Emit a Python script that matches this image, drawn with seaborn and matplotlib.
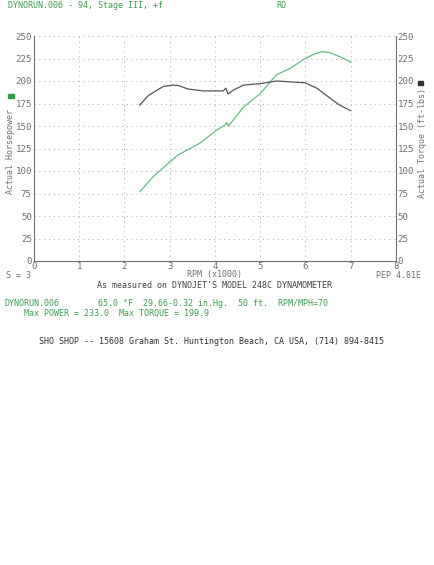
import seaborn as sns
import matplotlib.pyplot as plt
import pandas as pd

# Datos (RPM x1000)
rpm_power = [2.34, 2.64, 3.0, 3.19, 3.41, 3.67, 4.04, 4.22, 4.26, 4.29, 4.33, 4.63,
             5.0, 5.22, 5.36, 5.66, 5.99, 6.2, 6.36, 6.54, 6.76, 7.0]
power = [77, 94, 110, 118, 124, 131, 145.5, 151, 154, 150, 152, 171,
         186, 199, 207, 214, 225, 230, 232.6, 231.5, 227, 221]

rpm_torque = [2.33, 2.53, 2.86, 3.08, 3.19, 3.41, 3.74, 4.18, 4.24, 4.29, 4.41, 4.63,
              5.0, 5.36, 5.99, 6.25, 6.54, 6.76, 7.0]
torque = [173, 184, 194, 195.5, 195, 191, 189, 189, 192, 185.5, 190, 195.5,
          197, 200, 198, 192, 181, 173, 167]

x_ticks = list(range(0, 9))
y_ticks = list(range(0, 251, 25))

GREEN_TXT = "#3f9f52"
GREEN_LINE = "#66bb80"
GRAY = "#707070"
MONO = "DejaVu Sans Mono"

sns.set_style("white")
plt.rcParams['font.family'] = [MONO, 'DejaVu Sans']

fig = plt.figure(figsize=(4.35, 5.65), dpi=100)
ax = fig.add_axes([34 / 435, 1 - 261 / 565, 362 / 435, 225 / 565])

df_p = pd.DataFrame({"rpm": rpm_power, "hp": power})
df_t = pd.DataFrame({"rpm": rpm_torque, "tq": torque})
sns.lineplot(data=df_p, x="rpm", y="hp", ax=ax, color=GREEN_LINE, lw=0.9)
sns.lineplot(data=df_t, x="rpm", y="tq", ax=ax, color="#555555", lw=0.9)

ax.set_xlim(0, 8)
ax.set_ylim(0, 250)
ax.set_xticks(x_ticks)
ax.set_yticks(y_ticks)
ax.grid(True, color="#aaaaaa", linestyle=(0, (1, 4)), lw=0.7)
ax.set_xlabel("")
ax.set_ylabel("")
ax.tick_params(length=0, labelsize=6.6, labelcolor=GRAY, pad=1.5)
ax.tick_params(axis="x", pad=0.5)
for s in ["left", "bottom", "right"]:
    ax.spines[s].set_color(GRAY)
    ax.spines[s].set_linewidth(0.8)
ax.spines["top"].set_visible(False)

ax2 = ax.twinx()
ax2.set_ylim(0, 250)
ax2.set_yticks(y_ticks)
ax2.tick_params(length=0, labelsize=6.6, labelcolor=GRAY, pad=1)
for s in ax2.spines.values():
    s.set_visible(False)

def px(x, y):
    return x / 435, 1 - y / 565

fs = 6.0
fig.text(*px(8, 6), "DYNORUN.006 - 94, Stage III, +f", color=GREEN_TXT, fontsize=fs, va="center")
fig.text(*px(276, 5), "RO", color=GREEN_TXT, fontsize=fs, va="center")

fig.text(*px(11, 152), "Actual Horsepower", color=GRAY, fontsize=fs, rotation=90, ha="center", va="center")
fig.text(*px(423, 143), "Actual Torque (ft-lbs)", color=GRAY, fontsize=fs, rotation=90, ha="center", va="center")
fig.patches.append(plt.Rectangle(px(8, 98), 6 / 435, 4 / 565, transform=fig.transFigure,
                                 color="#2e9e45", figure=fig))
fig.patches.append(plt.Rectangle(px(418, 85), 5 / 435, 4 / 565, transform=fig.transFigure,
                                 color="#333333", figure=fig))

fig.text(*px(6, 275), "S = 3", color=GRAY, fontsize=fs, va="center")
fig.text(*px(215, 275), "RPM (x1000)", color=GRAY, fontsize=fs, ha="center", va="center")
fig.text(*px(421, 275), "PEP 4.81E", color=GRAY, fontsize=fs, ha="right", va="center")
fig.text(*px(215, 285), "As measured on DYNOJET'S MODEL 248C DYNAMOMETER", color="#444444",
         fontsize=fs, ha="center", va="center")

fig.text(*px(5, 303), "DYNORUN.006", color=GREEN_TXT, fontsize=fs, va="center")
fig.text(*px(98, 303), "65.0 °F  29.66-0.32 in.Hg.  50 ft.  RPM/MPH=70", color=GREEN_TXT,
         fontsize=fs, va="center")
fig.text(*px(24, 313), "Max POWER = 233.0  Max TORQUE = 199.9", color=GREEN_TXT, fontsize=fs, va="center")

fig.text(*px(39, 341), "SHO SHOP -- 15608 Graham St. Huntington Beach, CA USA, (714) 894-8415",
         color="#333333", fontsize=fs, va="center")

fig.savefig("out.png", dpi=100)
